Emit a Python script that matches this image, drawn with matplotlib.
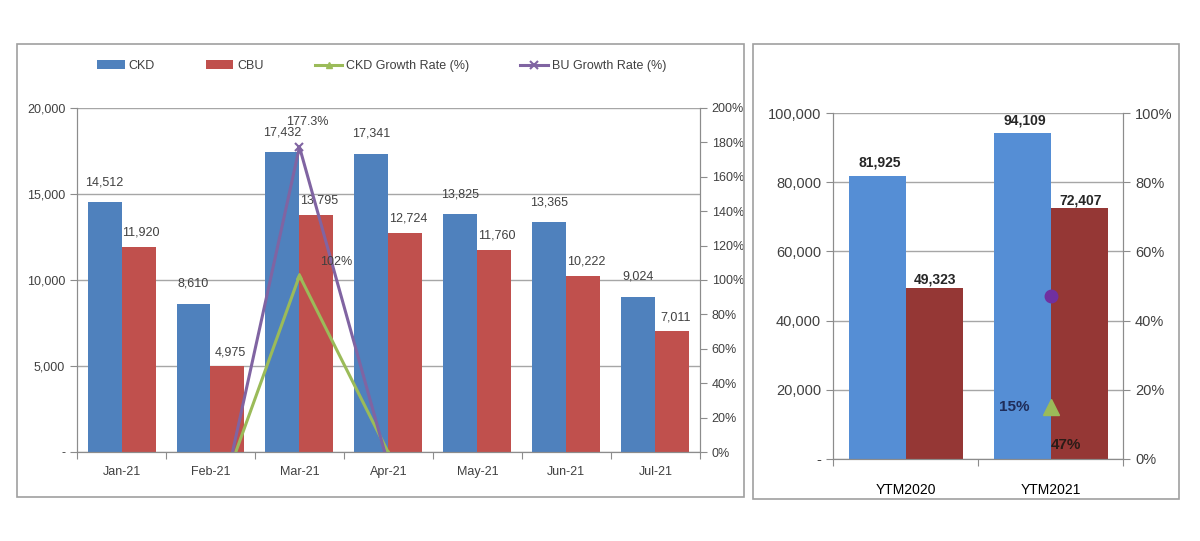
import numpy as np
import matplotlib
matplotlib.use("Agg")
import matplotlib.pyplot as plt
from matplotlib.patches import Rectangle
from matplotlib.ticker import FuncFormatter

plt.rcParams["font.family"] = ["Liberation Sans", "DejaVu Sans"]

# monthly data
months = ["Jan-21", "Feb-21", "Mar-21", "Apr-21", "May-21", "Jun-21", "Jul-21"]
ckd = [14512, 8610, 17432, 17341, 13825, 13365, 9024]
cbu = [11920, 4975, 13795, 12724, 11760, 10222, 7011]
# month-on-month growth, %
ckd_growth = [np.nan, -40.7, 102.5, -0.5, -20.3, -3.3, -32.5]
cbu_growth = [np.nan, -58.3, 177.3, -7.8, -7.6, -13.1, -31.4]

# year-to-month totals
ytm_labels = ["YTM2020", "YTM2021"]
ytm_ckd = [81925, 94109]
ytm_cbu = [49323, 72407]
ytm_ckd_growth = 15
ytm_cbu_growth = 47

BLUE = "#4F81BD"
RED = "#C0504D"
GREEN = "#9BBB59"
PURPLE = "#8064A2"
BLUE2 = "#558ED5"
RED2 = "#953735"
GRID = "#A6A6A6"
SPINE = "#8C8C8C"
TXT = "#404040"

fig = plt.figure(figsize=(12, 5.41), dpi=100)

# panel frames
for x0, y0, w, h in [(0.0142, 0.0813, 0.606, 0.837), (0.6275, 0.0776, 0.355, 0.841)]:
    fig.patches.append(Rectangle((x0, y0), w, h, transform=fig.transFigure,
                                 fill=False, edgecolor="#A0A0A0", lw=1.2))


def style_axes(ax, ax2, ncat, fs):
    ax.spines["top"].set_visible(False)
    ax2.spines["top"].set_visible(False)
    for s in ["left", "right", "bottom"]:
        ax.spines[s].set_color(SPINE)
        ax2.spines[s].set_color(SPINE)
    ax.set_xlim(0, ncat)
    ax.set_xticks(np.arange(ncat + 1))
    ax.set_xticklabels([])
    ax.tick_params(axis="x", which="major", length=5, color=SPINE)
    ax.tick_params(axis="y", length=5, color=SPINE, labelcolor=TXT, labelsize=fs)
    ax2.tick_params(axis="y", length=5, color=SPINE, labelcolor=TXT, labelsize=fs)
    ax.yaxis.grid(True, color=GRID, lw=1)
    ax.set_axisbelow(True)


def thousands(v, pos):
    return "-" if v == 0 else f"{v:,.0f}"


# ---- left chart: monthly ----
ax = fig.add_axes([0.0642, 0.1645, 0.519, 0.636])
ax2 = ax.twinx()
n = len(months)
x = np.arange(n) + 0.5
w = 0.382
ax.bar(x - w / 2, ckd, w, color=BLUE, label="CKD")
ax.bar(x + w / 2, cbu, w, color=RED, label="CBU")
ax.set_ylim(0, 20000)
ax.set_yticks(np.arange(0, 20001, 5000))
ax.yaxis.set_major_formatter(FuncFormatter(thousands))
ax.set_xticks(x, minor=True)
ax.set_xticklabels(months, minor=True, fontsize=9, color=TXT)
ax.tick_params(axis="x", which="minor", length=0, pad=10)
style_axes(ax, ax2, n, 9)

for xi, v in zip(x, ckd):
    ax.annotate(f"{v:,}", (xi - w / 2, v), xytext=(0, 10), textcoords="offset points",
                ha="center", va="bottom", fontsize=9, color=TXT)
for xi, v in zip(x, cbu):
    ax.annotate(f"{v:,}", (xi + w / 2, v), xytext=(2, 6), textcoords="offset points",
                ha="center", va="bottom", fontsize=9, color=TXT)

ax2.plot(x, np.array(ckd_growth) / 100, color=GREEN, lw=2.2, marker="^", ms=5,
         label="CKD Growth Rate (%)")
ax2.plot(x, np.array(cbu_growth) / 100, color=PURPLE, lw=2.2, marker="x", ms=6,
         mew=1.5, label="BU Growth Rate (%)")
ax2.set_ylim(0, 2)
ax2.set_yticks(np.arange(0, 2.01, 0.2))
ax2.yaxis.set_major_formatter(FuncFormatter(lambda v, p: f"{v * 100:.0f}%"))
ax2.annotate(f"{cbu_growth[2]:.1f}%", (x[2], cbu_growth[2] / 100), xytext=(6, 14),
             textcoords="offset points", ha="center", va="bottom", fontsize=9, color=TXT)
ax2.annotate(f"{ckd_growth[2]:.0f}%", (x[2], ckd_growth[2] / 100), xytext=(15, 10),
             textcoords="offset points", ha="left", va="center", fontsize=9, color=TXT)

h1, l1 = ax.get_legend_handles_labels()
h2, l2 = ax2.get_legend_handles_labels()
fig.legend(h1 + h2, l1 + l2, loc="center", bbox_to_anchor=(0.318, 0.878), ncol=4,
           frameon=False, fontsize=9, columnspacing=4.1, handlelength=2.2,
           handletextpad=0.3, labelcolor=TXT)

# ---- right chart: year to month ----
bx = fig.add_axes([0.6942, 0.1516, 0.2417, 0.6395])
bx2 = bx.twinx()
m = len(ytm_labels)
xr = np.arange(m) + 0.5
wr = 0.393
bx.bar(xr - wr / 2, ytm_ckd, wr, color=BLUE2)
bx.bar(xr + wr / 2, ytm_cbu, wr, color=RED2)
bx.set_ylim(0, 100000)
bx.set_yticks(np.arange(0, 100001, 20000))
bx.yaxis.set_major_formatter(FuncFormatter(thousands))
bx.set_xticks(xr, minor=True)
bx.set_xticklabels(ytm_labels, minor=True, fontsize=12.5, color="#1a1a1a")
bx.tick_params(axis="x", which="minor", length=0, pad=17)
style_axes(bx, bx2, m, 10.5)

for xi, v in zip(xr, ytm_ckd):
    bx.annotate(f"{v:,}", (xi - wr / 2, v), xytext=(2, 4), textcoords="offset points",
                ha="center", va="bottom", fontsize=10, fontweight="bold", color="#262626")
for xi, v in zip(xr, ytm_cbu):
    bx.annotate(f"{v:,}", (xi + wr / 2, v), xytext=(1, 1), textcoords="offset points",
                ha="center", va="bottom", fontsize=10, fontweight="bold", color="#262626")

bx2.set_ylim(0, 1)
bx2.set_yticks(np.arange(0, 1.01, 0.2))
bx2.yaxis.set_major_formatter(FuncFormatter(lambda v, p: f"{v * 100:.0f}%"))
bx2.plot([xr[1]], [ytm_cbu_growth / 100], "o", color="#7030A0", ms=9)
bx2.plot([xr[1]], [ytm_ckd_growth / 100], "^", color=GREEN, ms=11)
bx2.annotate(f"{ytm_ckd_growth}%", (xr[1], ytm_ckd_growth / 100), xytext=(-15, 0),
             textcoords="offset points", ha="right", va="center", fontsize=11,
             fontweight="bold", color="#1F2D5A")
bx2.annotate(f"{ytm_cbu_growth}%", (xr[1], 0), xytext=(0, 10),
             textcoords="offset points", ha="left", va="center", fontsize=11,
             fontweight="bold", color="#2B1B17")

fig.savefig("out.png", dpi=100)
